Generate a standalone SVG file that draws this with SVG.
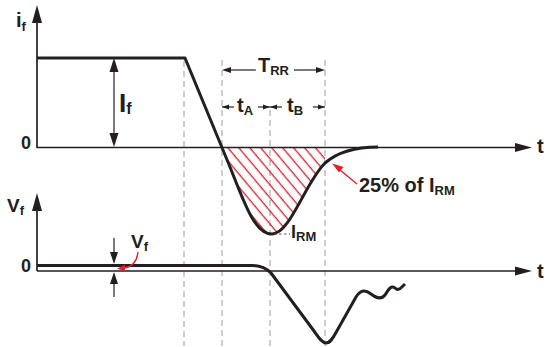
<svg xmlns="http://www.w3.org/2000/svg" width="547" height="347" viewBox="0 0 547 347">
<style>
text{font-family:"Liberation Sans",Arial,sans-serif;font-weight:bold;fill:#231f20}
.ax{stroke:#231f20;stroke-width:1.7;fill:none}
.wave{stroke:#231f20;stroke-width:3;fill:none;stroke-linejoin:round}
.dash{stroke:#b3b3b3;stroke-width:1.3;stroke-dasharray:6 4;fill:none}
.dim{stroke:#231f20;stroke-width:1.2;fill:none}
.red{stroke:#e3202a;stroke-width:1.4;fill:none}
.head{fill:#231f20}
.rhead{fill:#e3202a}
</style>
<defs>
<pattern id="hatch" patternUnits="userSpaceOnUse" width="8.4" height="20" patternTransform="rotate(-40)">
<line x1="4" y1="0" x2="4" y2="20" stroke="#e3202a" stroke-width="1.3"/>
</pattern>
<clipPath id="area"><path d="M222,148 L230,167 C245,205 255,234 272,234 C290,234 305,183 325,163 L325,148 Z"/></clipPath>
<marker id="sa" markerUnits="userSpaceOnUse" markerWidth="8" markerHeight="6" refX="7" refY="3" orient="auto"><path d="M0,0 L7,3 L0,6 Z" class="head"/></marker>
</defs>

<g id="grid">
<line class="dash" x1="184" y1="61" x2="184" y2="346"/>
<line class="dash" x1="222" y1="60" x2="222" y2="346"/>
<line class="dash" x1="270" y1="110" x2="270" y2="346"/>
<line class="dash" x1="325" y1="60" x2="325" y2="346"/>
</g>

<g id="hatched-area">
<rect x="215" y="140" width="120" height="100" fill="url(#hatch)" clip-path="url(#area)"/>
</g>

<g id="top-axes">
<line class="ax" x1="37" y1="148" x2="37" y2="20"/>
<path class="head" d="M37,5 L32,23 L42,23 Z"/>
<line class="ax" x1="37" y1="147.5" x2="518" y2="147.5"/>
<path class="head" d="M532,147.5 L515,143 L515,152 Z"/>
<text x="16" y="27" font-size="20">i<tspan font-size="13" dy="4">f</tspan></text>
<text x="21" y="148.5" font-size="18">0</text>
<text x="537" y="153" font-size="20">t</text>
</g>

<g id="bottom-axes">
<line class="ax" x1="37" y1="271" x2="37" y2="208"/>
<path class="head" d="M37,193 L32,211 L42,211 Z"/>
<line class="ax" x1="37" y1="271" x2="518" y2="271"/>
<path class="head" d="M532,271 L515,266.5 L515,275.5 Z"/>
<text x="7" y="212" font-size="19">V<tspan font-size="13" dy="3">f</tspan></text>
<text x="21" y="272" font-size="18">0</text>
<text x="537" y="278" font-size="20">t</text>
</g>

<g id="current-wave">
<path class="wave" d="M37,58 H185 L230,167 C245,205 255,234 272,234 C290,234 305,183 325,163 C340,150 360,147 378,147"/>
</g>

<g id="voltage-wave">
<path class="wave" d="M37,265.5 H252 C261,265.5 266,268 271,273 L314,331 C319,338 322,343 326,343 C331,343 334,336 338,329 L356,297 C361,289 366,290 371,294 C376,298 381,300 385,295 C389,289 391,285 395,288 C398,291 400,289 405,284"/>
</g>

<g id="If-dim">
<line class="dim" x1="114" y1="70" x2="114" y2="135"/>
<path class="head" d="M114,58 L109.5,72 L118.5,72 Z"/>
<path class="head" d="M114,147 L109.5,133 L118.5,133 Z"/>
<text x="119" y="112" font-size="26">I<tspan font-size="16" dy="2">f</tspan></text>
</g>

<g id="TRR-dim">
<line class="dim" x1="229" y1="70" x2="256" y2="70"/>
<path class="head" d="M222,70 L231,67 L231,73 Z"/>
<line class="dim" x1="294" y1="70" x2="318" y2="70"/>
<path class="head" d="M325,70 L316,67 L316,73 Z"/>
<text x="258" y="72" font-size="20">T<tspan font-size="13" dy="3">RR</tspan></text>
</g>

<g id="tA-tB-dim">
<line class="dim" x1="222" y1="107" x2="234" y2="107"/>
<path class="head" d="M222,107 L229,104.5 L229,109.5 Z"/>
<line class="dim" x1="258" y1="107" x2="270" y2="107"/>
<path class="head" d="M270,107 L263,104.5 L263,109.5 Z"/>
<line class="dim" x1="270" y1="107" x2="282" y2="107"/>
<path class="head" d="M270,107 L277,104.5 L277,109.5 Z"/>
<line class="dim" x1="313" y1="107" x2="325" y2="107"/>
<path class="head" d="M325,107 L318,104.5 L318,109.5 Z"/>
<text x="237" y="112" font-size="20">t<tspan font-size="13" dy="3">A</tspan></text>
<text x="287" y="112" font-size="20">t<tspan font-size="13" dy="3">B</tspan></text>
</g>

<g id="IRM-label">
<line x1="274" y1="234" x2="290" y2="234" stroke="#555" stroke-width="1" stroke-dasharray="2.5 2.5"/>
<text x="291" y="238" font-size="18">I<tspan font-size="13" dy="3">RM</tspan></text>
</g>

<g id="pct-label">
<line class="red" x1="357" y1="184" x2="340" y2="170"/>
<path class="rhead" d="M332,163.5 L343.5,167 L339,172.5 Z"/>
<text x="359" y="192" font-size="20">25% of I<tspan font-size="13" dy="3">RM</tspan></text>
</g>

<g id="Vf-dim">
<line class="dim" x1="114" y1="238" x2="114" y2="254"/>
<path class="head" d="M114,264 L110,252 L118,252 Z"/>
<line class="dim" x1="114" y1="297" x2="114" y2="282"/>
<path class="head" d="M114,272 L110,284 L118,284 Z"/>
<text x="131" y="248" font-size="19">V<tspan font-size="13" dy="3">f</tspan></text>
<path class="red" d="M138,252 C137,262 132,267 124,268"/>
<path class="rhead" d="M117,268.5 L125,265 L125,271.5 Z"/>
</g>
</svg>
